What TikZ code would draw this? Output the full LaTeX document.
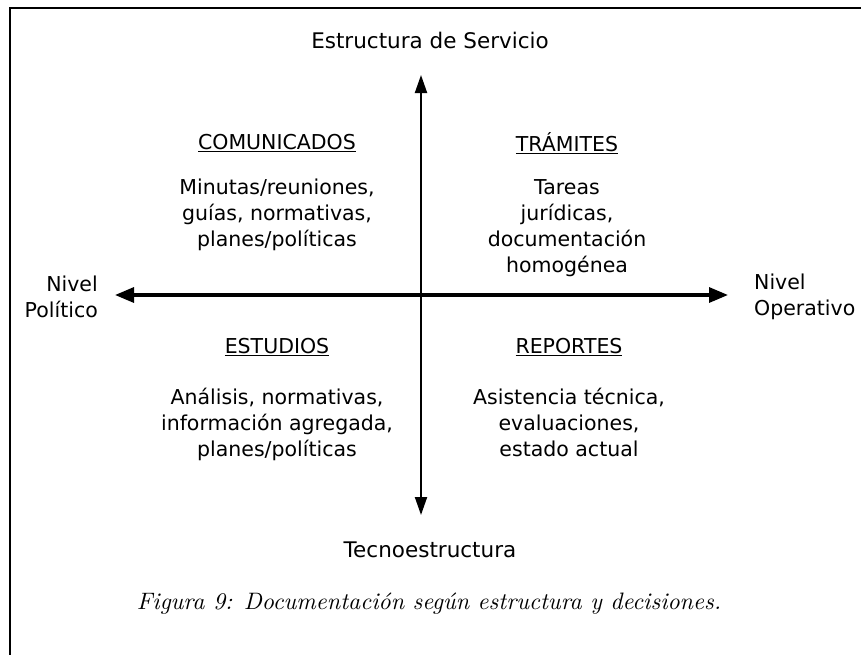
\documentclass[tikz,border=0pt]{standalone}
\usepackage{fontspec}
\setmainfont{DejaVu Sans}
\newfontfamily\capfont{lmroman10-italic.otf}
\usetikzlibrary{arrows.meta}
\tikzset{
  lbl/.style={font=\fontsize{20.5}{26}\selectfont, inner sep=0pt, align=center},
  biglbl/.style={font=\fontsize{21.5}{26}\selectfont, inner sep=0pt, align=center},
  vaxis/.style={line width=2pt, {Triangle[length=18pt,width=12pt]}-{Triangle[length=18pt,width=12pt]}},
  haxis/.style={line width=3.2pt, {Triangle[length=19pt,width=15pt]}-{Triangle[length=19pt,width=15pt]}},
  frame/.style={line width=2.6pt}
}
\begin{document}
\begin{tikzpicture}[x=1pt,y=-1pt]
\useasboundingbox (0,0) rectangle (861,654);
% frame (right and bottom lie outside)
\draw[frame] (10,660) -- (10,8) -- (870,8);
% axes
\coordinate (top) at (421,75);
\coordinate (bot) at (421,515);
\coordinate (lft) at (115,295);
\coordinate (rgt) at (728,295);
\draw[vaxis] (bot) -- (top);
\draw[haxis] (lft) -- (rgt);
% axis labels
\node[biglbl] (es) at (430,40) {Estructura de Servicio};
\node[biglbl] (te) at (430,550) {Tecnoestructura};
\node[lbl, align=right, anchor=east] (np) at (98,297) {Nivel\\Político};
\node[lbl, align=left, anchor=west] (no) at (754,297) {Nivel\\Operativo};
% quadrants
\node[lbl] (com) at (277,143) {\underline{COMUNICADOS}};
\node[lbl, anchor=north] (comt) at (277,179) {Minutas/reuniones,\\guías, normativas,\\planes/políticas};
\node[lbl] (tra) at (567,143) {\underline{TRÁMITES}};
\node[lbl, anchor=north] (trat) at (567,179) {Tareas\\jurídicas,\\documentación\\homogénea};
\node[lbl] (est) at (277,347) {\underline{ESTUDIOS}};
\node[lbl, anchor=north] (estt) at (277,388) {Análisis, normativas,\\información agregada,\\planes/políticas};
\node[lbl] (rep) at (569,347) {\underline{REPORTES}};
\node[lbl, anchor=north] (rept) at (569,388) {Asistencia técnica,\\evaluaciones,\\estado actual};
% caption
\node[font=\capfont\fontsize{23.8}{28}\selectfont, inner sep=0pt] (cap) at (429,604) {Figura 9: Documentación según estructura y decisiones.};
\end{tikzpicture}
\end{document}
